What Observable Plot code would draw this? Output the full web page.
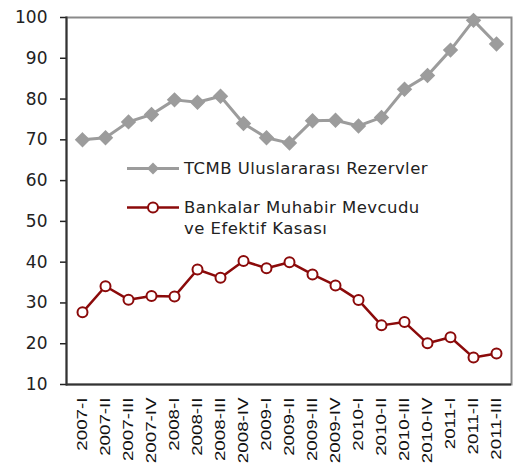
<!DOCTYPE html>
<html>
<head>
<meta charset="utf-8">
<script src="https://cdn.jsdelivr.net/npm/d3@7"></script>
<script src="https://cdn.jsdelivr.net/npm/@observablehq/plot@0.6"></script>
<style>
  body { margin: 0; background: #fff; }
  #chart { position: relative; width: 517px; height: 464px; }
  .legend { position: absolute; font-family: "DejaVu Sans", sans-serif; font-size: 16.5px; letter-spacing: 0.45px; color: #222; line-height: 21px; }
  .legend .row { display: flex; align-items: flex-start; }
  .legend svg { flex: none; }
</style>
</head>
<body>
<div id="chart"></div>
<script>
const periods = ["2007-I","2007-II","2007-III","2007-IV","2008-I","2008-II","2008-III","2008-IV",
  "2009-I","2009-II","2009-III","2009-IV","2010-I","2010-II","2010-III","2010-IV","2011-I","2011-II","2011-III"];
const reserves = [70.0,70.5,74.4,76.2,79.8,79.2,80.7,74.0,70.5,69.2,74.7,74.8,73.4,75.5,82.4,85.8,92.0,99.3,93.5];
const banks = [27.7,34.1,30.8,31.7,31.6,38.2,36.2,40.3,38.5,40.0,37.0,34.3,30.7,24.5,25.3,20.1,21.6,16.6,17.6];
const seriesNames = ["TCMB Uluslararası Rezervler", "Bankalar Muhabir Mevcudu\nve Efektif Kasası"];
const yTicks = [10,20,30,40,50,60,70,80,90,100];
</script>
<script>
const grayColor = "#9c9c9c", redColor = "#8b0a0a";
const d1 = periods.map((p,i)=>({p, v: reserves[i]}));
const d2 = periods.map((p,i)=>({p, v: banks[i]}));
const chart = Plot.plot({
  width: 517, height: 464,
  marginLeft: 66, marginRight: 6, marginTop: 17, marginBottom: 80,
  style: {fontFamily: "DejaVu Sans, sans-serif", background: "#fff", color: "#222"},
  x: {type: "point", domain: periods, padding: 0.5, label: null},
  y: {domain: [10, 100], label: null},
  marks: [
    Plot.frame({stroke: "#8a8a8a", strokeWidth: 2}),
    Plot.axisY({ticks: yTicks, tickSize: 6, tickPadding: 13, fontSize: 17, tickFormat: d => d, label: null, stroke: "#222", strokeWidth: 1.5}),
    Plot.axisX({tickSize: 0, tickRotate: -90, tickPadding: 13, fontSize: 15, label: null, fill: "#111", fontFamily: "Liberation Sans, Arial, sans-serif", className: "xlabels"}),
    Plot.ruleY([10], {stroke: "#333", strokeWidth: 2}),
    Plot.frame({anchor: "left", stroke: "#333", strokeWidth: 2}),
    Plot.line(d1, {x: "p", y: "v", stroke: grayColor, strokeWidth: 3}),
    Plot.dot(d1, {x: "p", y: "v", symbol: "diamond2", fill: grayColor, stroke: grayColor, r: 6}),
    Plot.line(d2, {x: "p", y: "v", stroke: redColor, strokeWidth: 2.5}),
    Plot.dot(d2, {x: "p", y: "v", symbol: "circle", fill: "#fff", stroke: redColor, strokeWidth: 2, r: 5})
  ]
});
const root = document.getElementById("chart");
root.appendChild(chart);
// stretch rotated x tick labels along their length (condensed look of the original)
d3.select(chart).selectAll(".xlabels text").each(function() {
  const t = this.getAttribute("transform") || "";
  this.setAttribute("transform", t + " scale(1.25,1)");
});

function legendRow(top, color, marker, text) {
  const div = document.createElement("div");
  div.className = "legend";
  div.style.left = "127px";
  div.style.top = top + "px";
  const sw = marker === "diamond"
    ? `<svg width="56" height="21"><line x1="0" x2="52" y1="10.5" y2="10.5" stroke="${color}" stroke-width="3"/><path d="M26,4.5 L32,10.5 L26,16.5 L20,10.5Z" fill="${color}"/></svg>`
    : `<svg width="56" height="21"><line x1="0" x2="52" y1="10.5" y2="10.5" stroke="${color}" stroke-width="2.5"/><circle cx="26" cy="10.5" r="5" fill="#fff" stroke="${color}" stroke-width="2"/></svg>`;
  div.innerHTML = `<div class="row">${sw}<div style="margin-left:1px">${text.replace("\n","<br>")}</div></div>`;
  root.appendChild(div);
}
legendRow(158, grayColor, "diamond", seriesNames[0]);
legendRow(197, redColor, "circle", seriesNames[1]);
</script>
</body>
</html>
